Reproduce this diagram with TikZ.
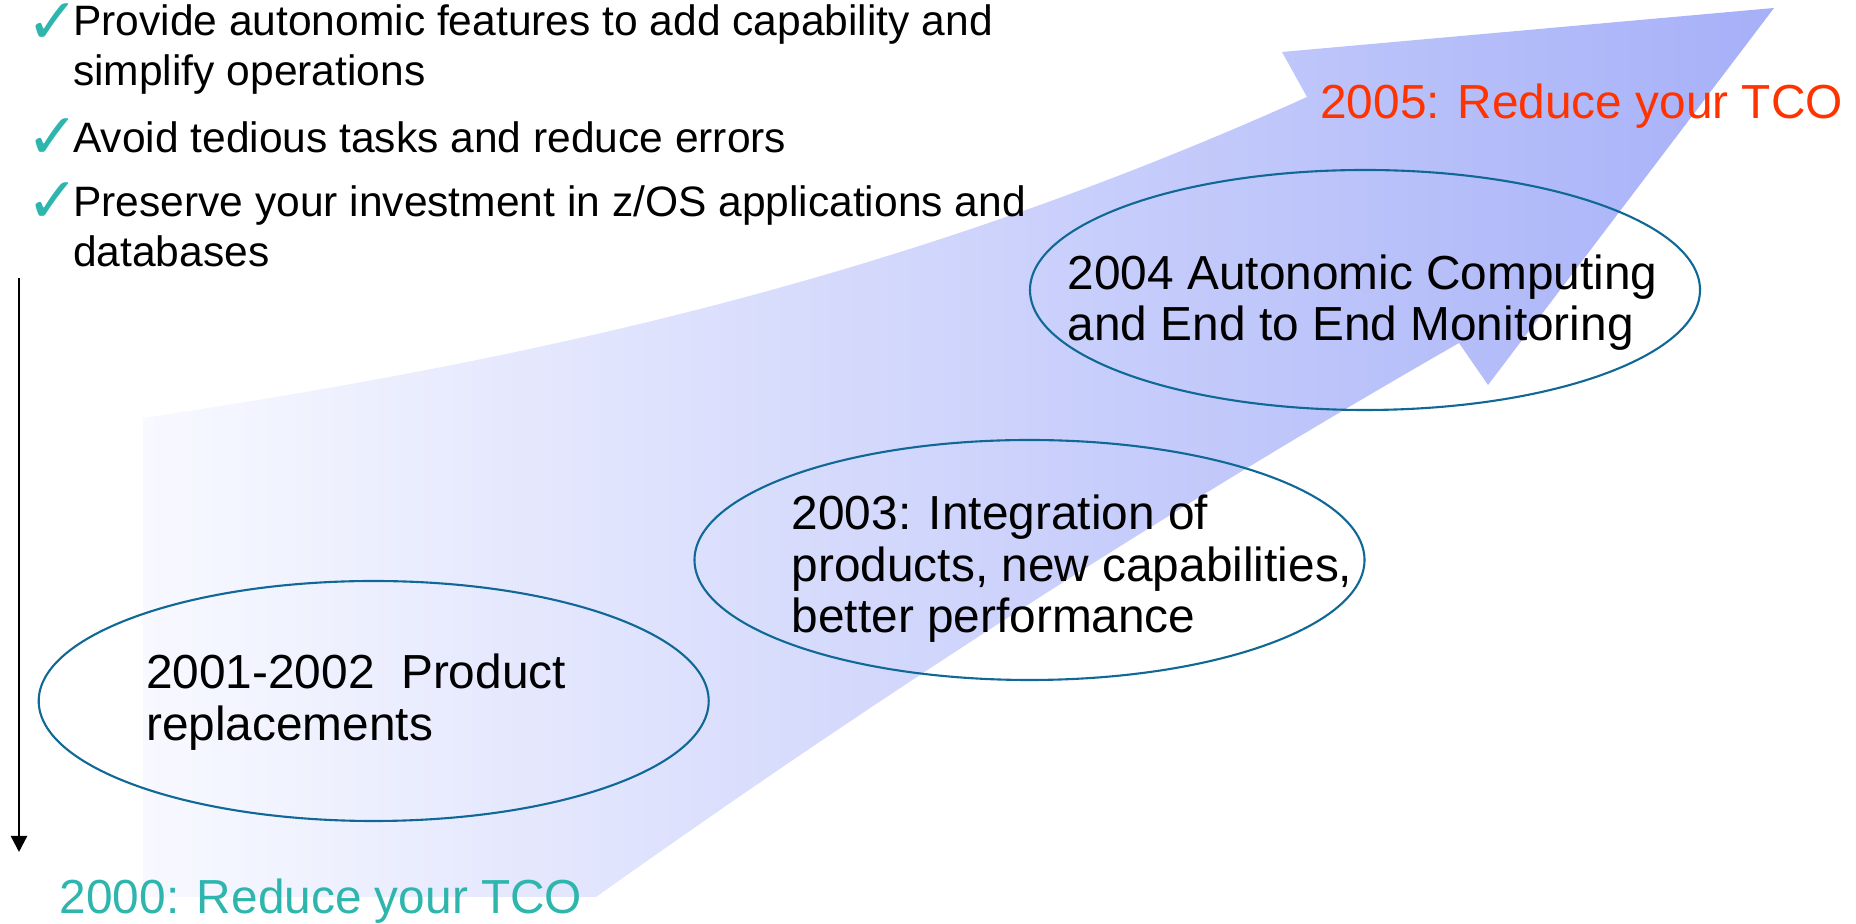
\documentclass[tikz,border=0pt]{standalone}
\usepackage{fontspec}
\setmainfont{Liberation Sans}
\newfontfamily\checkfont{DejaVu Sans}
\usepackage{tikz}
\usetikzlibrary{arrows.meta}

\definecolor{tcoteal}{RGB}{46,182,174}
\definecolor{tcored}{RGB}{255,51,0}
\definecolor{ringblue}{RGB}{16,104,150}
\definecolor{arrowlight}{RGB}{248,249,255}
\definecolor{arrowdark}{RGB}{166,176,248}

\begin{document}
\begin{tikzpicture}[
  ring/.style={draw=ringblue, line width=0.6pt},
  bigtxt/.style={anchor=base west, inner sep=0pt, font=\fontsize{13.6}{16}\selectfont},
  smalltxt/.style={anchor=base west, inner sep=0pt, font=\fontsize{12.1}{14}\selectfont},
  checkmark/.style={anchor=base west, inner sep=0pt, text=tcoteal, font=\checkfont\fontsize{18}{20}\selectfont}]
 \useasboundingbox (0,0) rectangle (18.56,9.24);

 % big arrow in the back
 \shade[left color=arrowlight, right color=arrowdark]
   (1.43,5.06) .. controls (5.43,5.66) and (9.07,6.47) .. (13.07,8.27)
   -- (12.82,8.72) -- (17.74,9.16) -- (14.88,5.39) -- (14.59,5.81)
   .. controls (11.71,4.16) and (8.84,2.32) .. (5.96,0.27)
   -- (1.43,0.27) -- cycle;

 % bullets
 \node[checkmark] (c1) at (0.26,8.808) {✓};
 \node[smalltxt] (b1) at (0.725,8.88) {Provide autonomic features to add capability and};
 \node[smalltxt] (b1b) at (0.725,8.38) {simplify operations};
 \node[checkmark] (c2) at (0.26,7.655) {✓};
 \node[smalltxt] (b2) at (0.725,7.713) {Avoid tedious tasks and reduce errors};
 \node[checkmark] (c3) at (0.26,7.015) {✓};
 \node[smalltxt] (b3) at (0.725,7.073) {Preserve your investment in z/OS applications and};
 \node[smalltxt] (b3b) at (0.725,6.573) {databases};

 % time line
 \coordinate (ttop) at (0.19,6.46);
 \coordinate (tbot) at (0.19,0.72);
 \draw[line width=0.7pt, -{Triangle[width=4.6pt,length=4.6pt]}] (ttop) -- (tbot);

 % steps
 \draw[ring] (3.737,2.23) ellipse (3.35 and 1.20);
 \node[bigtxt] (s1) at (1.454,2.352) {2001-2002\ \ Product};
 \node[bigtxt] (s1b) at (1.454,1.831) {replacements};

 \draw[ring] (10.295,3.64) ellipse (3.35 and 1.20);
 \node[bigtxt] (s2) at (7.91,3.94) {2003: Integration of};
 \node[bigtxt] (s2b) at (7.91,3.423) {products, new capabilities,};
 \node[bigtxt] (s2c) at (7.91,2.91) {better performance};

 \draw[ring] (13.65,6.34) ellipse (3.35 and 1.20);
 \node[bigtxt] (s3) at (10.67,6.34) {2004 Autonomic Computing};
 \node[bigtxt] (s3b) at (10.67,5.833) {and End to End Monitoring};

 \node[bigtxt, text=tcored] (tco5) at (13.196,8.057) {2005: Reduce your TCO};
 \node[bigtxt, text=tcoteal] (tco0) at (0.59,0.10) {2000: Reduce your TCO};
\end{tikzpicture}
\end{document}
